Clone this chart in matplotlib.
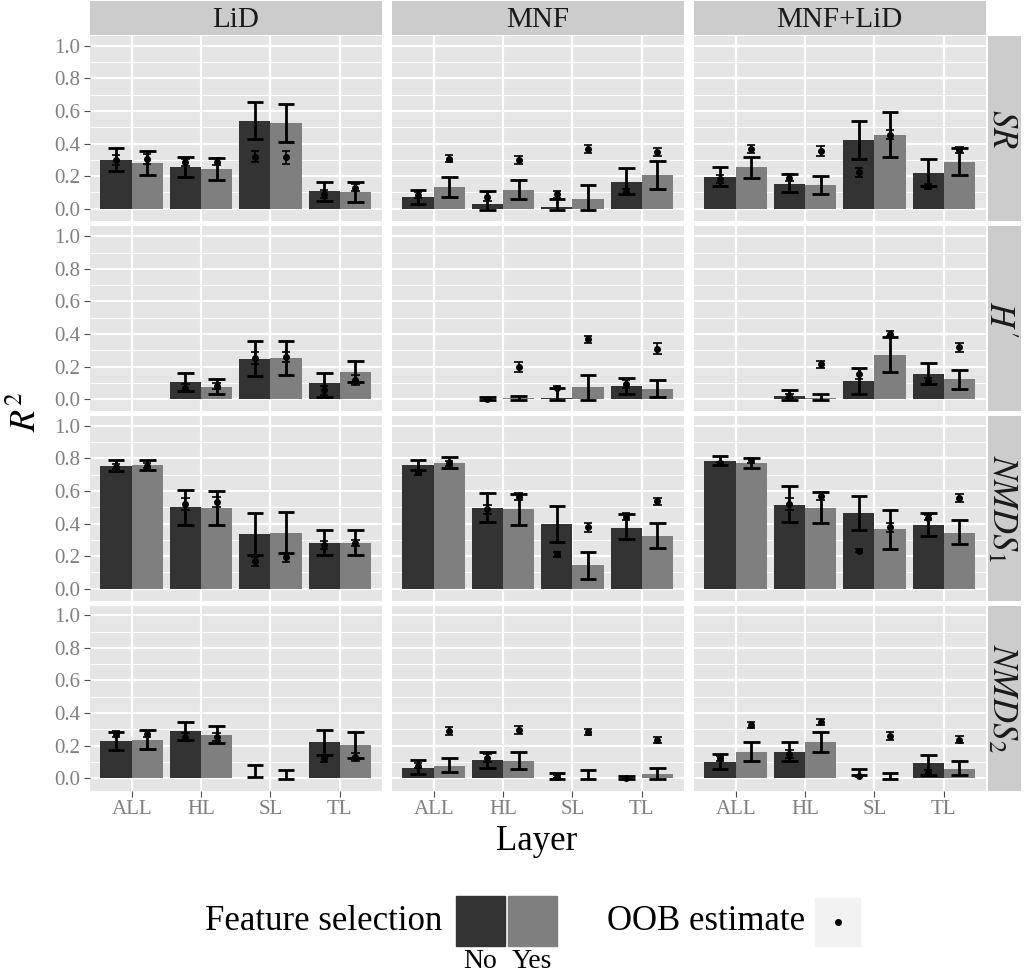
import numpy as np
import matplotlib
matplotlib.use('Agg')
import matplotlib.pyplot as plt
from matplotlib.patches import Rectangle
from matplotlib.lines import Line2D

plt.rcParams['font.family'] = ['Liberation Serif', 'DejaVu Serif']
plt.rcParams['mathtext.fontset'] = 'stix'

nan = np.nan

layers = ['ALL', 'HL', 'SL', 'TL']
sources = ['LiD', 'MNF', 'MNF+LiD']
responses = ['$SR$', "$H'$", '$NMDS_1$', '$NMDS_2$']
selection = ['No', 'Yes']

# each inner list: ALL-No, ALL-Yes, HL-No, HL-Yes, SL-No, SL-Yes, TL-No, TL-Yes
# one inner list per source (LiD, MNF, MNF+LiD)
sr_mean = [[0.30, 0.28, 0.256, 0.243, 0.54, 0.526, 0.108, 0.10],
           [0.07, 0.133, 0.029, 0.117, 0.01, 0.057, 0.166, 0.207],
           [0.194, 0.258, 0.155, 0.143, 0.42, 0.452, 0.217, 0.286]]
sr_lo = [[0.23, 0.21, 0.196, 0.178, 0.43, 0.41, 0.047, 0.039],
         [0.031, 0.072, -0.005, 0.061, -0.005, -0.005, 0.09, 0.123],
         [0.137, 0.19, 0.10, 0.088, 0.305, 0.317, 0.137, 0.21]]
sr_hi = [[0.37, 0.354, 0.32, 0.31, 0.655, 0.644, 0.167, 0.164],
         [0.117, 0.196, 0.106, 0.176, 0.06, 0.147, 0.25, 0.294],
         [0.258, 0.32, 0.215, 0.20, 0.54, 0.595, 0.305, 0.37]]
sr_oob = [[0.30, 0.305, 0.284, 0.29, 0.32, 0.315, 0.092, 0.129],
          [0.082, 0.307, 0.075, 0.30, 0.088, 0.366, 0.104, 0.348],
          [0.182, 0.368, 0.19, 0.354, 0.223, 0.454, 0.137, 0.36]]
sr_oob_err = [[0.03, 0.028, 0.02, 0.02, 0.035, 0.038, 0.025, 0.022],
              [0.018, 0.023, 0.025, 0.025, 0.02, 0.025, 0.02, 0.025],
              [0.025, 0.025, 0.022, 0.032, 0.03, 0.028, 0.018, 0.018]]

h_mean = [[nan, nan, 0.109, 0.074, 0.246, 0.254, 0.10, 0.168],
          [nan, nan, 0.003, 0.005, 0.01, 0.074, 0.08, 0.066],
          [nan, nan, 0.023, 0.008, 0.113, 0.27, 0.156, 0.123]]
h_lo = [[nan, nan, 0.05, 0.03, 0.14, 0.15, 0.012, 0.106],
        [nan, nan, -0.005, -0.005, -0.005, -0.005, 0.03, 0.017],
        [nan, nan, -0.005, -0.005, 0.033, 0.166, 0.094, 0.066]]
h_hi = [[nan, nan, 0.16, 0.123, 0.355, 0.36, 0.16, 0.233],
        [nan, nan, 0.012, 0.02, 0.07, 0.146, 0.13, 0.12],
        [nan, nan, 0.055, 0.035, 0.19, 0.38, 0.22, 0.18]]
h_oob = [[nan, nan, 0.072, 0.082, 0.254, 0.26, 0.055, 0.117],
         [nan, nan, 0.0, 0.199, 0.072, 0.367, 0.094, 0.31],
         [nan, nan, 0.02, 0.215, 0.156, 0.403, 0.11, 0.32]]
h_oob_err = [[nan, nan, 0.02, 0.02, 0.035, 0.03, 0.027, 0.03],
             [nan, nan, 0.006, 0.03, 0.012, 0.02, 0.025, 0.035],
             [nan, nan, 0.013, 0.022, 0.03, 0.015, 0.02, 0.027]]

n1_mean = [[0.753, 0.759, 0.499, 0.495, 0.337, 0.342, 0.282, 0.282],
           [0.757, 0.773, 0.495, 0.487, 0.397, 0.143, 0.37, 0.325],
           [0.783, 0.771, 0.517, 0.495, 0.462, 0.364, 0.39, 0.345]]
n1_lo = [[0.72, 0.726, 0.393, 0.39, 0.21, 0.219, 0.208, 0.21],
         [0.726, 0.742, 0.407, 0.393, 0.288, 0.063, 0.305, 0.252],
         [0.76, 0.74, 0.41, 0.403, 0.362, 0.241, 0.323, 0.274]]
n1_hi = [[0.787, 0.79, 0.603, 0.60, 0.464, 0.468, 0.358, 0.358],
         [0.79, 0.806, 0.587, 0.58, 0.51, 0.225, 0.456, 0.403],
         [0.816, 0.804, 0.628, 0.593, 0.569, 0.483, 0.462, 0.419]]
n1_oob = [[0.75, 0.755, 0.52, 0.53, 0.168, 0.192, 0.266, 0.282],
          [0.716, 0.77, 0.489, 0.564, 0.213, 0.376, 0.442, 0.536],
          [0.77, 0.787, 0.52, 0.569, 0.233, 0.376, 0.437, 0.556]]
n1_oob_err = [[0.017, 0.015, 0.035, 0.03, 0.03, 0.025, 0.025, 0.02],
              [0.015, 0.014, 0.028, 0.022, 0.015, 0.03, 0.02, 0.02],
              [0.01, 0.015, 0.035, 0.027, 0.01, 0.028, 0.016, 0.023]]

n2_mean = [[0.229, 0.235, 0.292, 0.268, 0.003, 0.0, 0.221, 0.204],
           [0.065, 0.077, 0.11, 0.108, 0.003, 0.003, 0.0, 0.028],
           [0.102, 0.163, 0.163, 0.225, 0.0, 0.003, 0.092, 0.059]]
n2_lo = [[0.172, 0.178, 0.235, 0.217, 0.005, -0.005, 0.143, 0.126],
         [0.026, 0.037, 0.061, 0.057, -0.005, -0.005, -0.005, -0.005],
         [0.059, 0.108, 0.108, 0.163, 0.02, -0.005, 0.02, 0.02]]
n2_hi = [[0.286, 0.294, 0.347, 0.32, 0.08, 0.05, 0.296, 0.284],
         [0.112, 0.123, 0.161, 0.161, 0.034, 0.05, 0.012, 0.066],
         [0.149, 0.22, 0.22, 0.286, 0.058, 0.034, 0.145, 0.108]]
n2_oob = [[0.27, 0.272, 0.253, 0.252, nan, nan, 0.123, 0.131],
          [0.077, 0.29, 0.123, 0.296, 0.01, 0.284, 0.0, 0.235],
          [0.123, 0.327, 0.15, 0.345, 0.012, 0.26, 0.034, 0.237]]
n2_oob_err = [[0.018, 0.02, 0.023, 0.023, nan, nan, 0.022, 0.023],
              [0.015, 0.022, 0.025, 0.024, 0.01, 0.018, 0.004, 0.021],
              [0.015, 0.016, 0.026, 0.02, 0.004, 0.025, 0.015, 0.021]]

all_mean = [sr_mean, h_mean, n1_mean, n2_mean]
all_lo = [sr_lo, h_lo, n1_lo, n2_lo]
all_hi = [sr_hi, h_hi, n1_hi, n2_hi]
all_oob = [sr_oob, h_oob, n1_oob, n2_oob]
all_oob_err = [sr_oob_err, h_oob_err, n1_oob_err, n2_oob_err]

bar_colors = ['#333333', '#7f7f7f']
W, H = 1024, 973
fig = plt.figure(figsize=(W / 100, H / 100), dpi=100)


def rect(x0, y0, x1, y1):
    return [x0 / W, 1 - y1 / H, (x1 - x0) / W, (y1 - y0) / H]


col_x = [(90, 381.5), (392, 683.5), (694, 985.5)]
row_y = [(36, 221), (226.5, 411.5), (416, 601), (605.5, 790.5)]
strip_x = [0.42, 0.3, 0.42, 0.42]

x = np.arange(1, 5)
for r in range(4):
    for c in range(3):
        ax = fig.add_axes(rect(col_x[c][0], row_y[r][0], col_x[c][1], row_y[r][1]))
        ax.set_facecolor('#E5E5E5')
        for k in range(2):
            m = np.array(all_mean[r][c][k::2])
            lo = np.array(all_lo[r][c][k::2])
            hi = np.array(all_hi[r][c][k::2])
            oob = np.array(all_oob[r][c][k::2])
            oe = np.array(all_oob_err[r][c][k::2])
            xs = x - 0.225 + 0.45 * k
            ax.bar(xs, m, width=0.45, color=bar_colors[k], zorder=2)
            ax.vlines(xs, lo, hi, color='black', lw=2.0, zorder=3)
            ax.hlines(lo, xs - 0.12, xs + 0.12, color='black', lw=2.0, zorder=3)
            ax.hlines(hi, xs - 0.12, xs + 0.12, color='black', lw=2.0, zorder=3)
            ax.vlines(xs, oob - oe, oob + oe, color='black', lw=1.2, zorder=4)
            ax.hlines(oob - oe, xs - 0.06, xs + 0.06, color='black', lw=1.2, zorder=4)
            ax.hlines(oob + oe, xs - 0.06, xs + 0.06, color='black', lw=1.2, zorder=4)
            ax.plot(xs, oob, 'o', color='black', ms=4, zorder=5)
        ax.set_xlim(0.4, 4.6)
        ax.set_ylim(-0.075, 1.06)
        ax.set_xticks(x)
        ax.set_yticks(np.arange(0, 1.01, 0.2))
        ax.set_yticks(np.arange(0.1, 1.0, 0.2), minor=True)
        ax.grid(which='major', color='white', lw=1.6, zorder=0)
        ax.grid(which='minor', axis='y', color='white', lw=0.7, zorder=0)
        ax.set_axisbelow(True)
        for s in ax.spines.values():
            s.set_visible(False)
        ax.tick_params(which='major', color='#4d4d4d', length=4, width=0.8,
                       labelcolor='#7f7f7f', labelsize=15, pad=3)
        ax.tick_params(which='minor', length=0)
        if c == 0:
            ax.set_yticklabels(['%.1f' % v for v in np.arange(0, 1.01, 0.2)])
        else:
            ax.tick_params(axis='y', length=0, labelleft=False)
        if r == 3:
            ax.set_xticklabels(layers)
        else:
            ax.tick_params(axis='x', length=0, labelbottom=False)
        if r == 0:
            sax = fig.add_axes(rect(col_x[c][0], 1, col_x[c][1], 35))
            sax.set_facecolor('#CCCCCC')
            sax.set_xticks([])
            sax.set_yticks([])
            for s in sax.spines.values():
                s.set_visible(False)
            sax.text(0.5, 0.45, sources[c], ha='center', va='center', fontsize=21,
                     color='#1a1a1a', transform=sax.transAxes)
    sax = fig.add_axes(rect(987.5, row_y[r][0], 1021, row_y[r][1]))
    sax.set_facecolor('#CCCCCC')
    sax.set_xticks([])
    sax.set_yticks([])
    for s in sax.spines.values():
        s.set_visible(False)
    sax.text(strip_x[r], 0.5, responses[r], ha='center', va='center', fontsize=25,
             rotation=-90, color='#1a1a1a', transform=sax.transAxes)

fig.text(27 / W, 1 - 412 / H, '$R^2$', rotation=90, ha='center', va='center', fontsize=26)
fig.text(537 / W, 1 - 842 / H, 'Layer', ha='center', va='center', fontsize=25)

# legend
fig.text(205 / W, 1 - 921 / H, 'Feature selection', ha='left', va='center', fontsize=25)
for k, (x0, lab) in enumerate(zip([456, 507.5], selection)):
    fig.add_artist(Rectangle((x0 / W, 1 - 946 / H), 49 / W, 50 / H,
                             transform=fig.transFigure, color=bar_colors[k]))
    fig.text((x0 + 24.5) / W, 1 - 962 / H, lab, ha='center', va='center', fontsize=20)
fig.text(607 / W, 1 - 921 / H, 'OOB estimate', ha='left', va='center', fontsize=25)
fig.add_artist(Rectangle((815 / W, 1 - 946 / H), 45 / W, 48 / H,
                         transform=fig.transFigure, color='#F2F2F2'))
fig.add_artist(Line2D([837.5 / W], [1 - 922 / H], marker='o', ms=4, color='black',
                      transform=fig.transFigure))

fig.savefig('out.png', dpi=100)
